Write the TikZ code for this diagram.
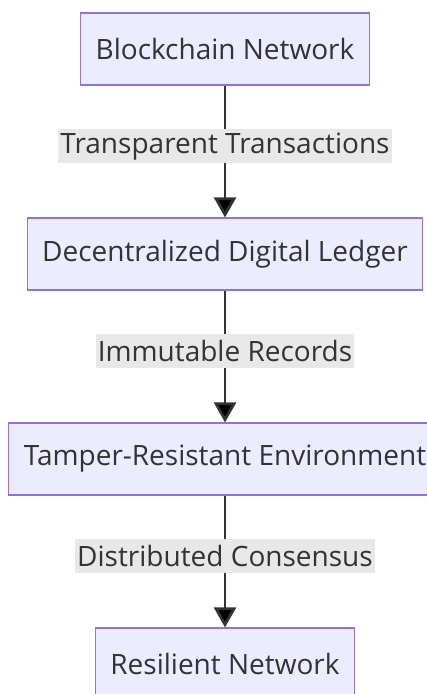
\documentclass[tikz,border=0pt]{standalone}
\usepackage{fontspec}
\setmainfont{Open Sans}
\usetikzlibrary{positioning,arrows.meta}

\definecolor{boxfill}{HTML}{ECECFF}
\definecolor{boxline}{HTML}{9370DB}
\definecolor{lblfill}{HTML}{E8E8E8}
\definecolor{ink}{HTML}{333333}

\tikzset{
  box/.style={draw=boxline, fill=boxfill, line width=1.2pt, text=ink,
    minimum height=72pt, inner xsep=15pt, font=\fontsize{28}{32}\selectfont},
  lbl/.style={fill=lblfill, text=ink, inner xsep=2pt, inner ysep=0pt,
    minimum height=34pt, font=\fontsize{28}{32}\selectfont},
  flow/.style={draw=ink, line width=2.8pt, -{Triangle[length=20pt,width=22pt]}}
}

\begin{document}
\begin{tikzpicture}[x=1pt,y=-1pt,node distance=205pt,on grid]
   \useasboundingbox (0,0) rectangle (427,694);
   \node[box] (bn)  at (225,49)   {Blockchain Network};
   \node[box] (ddl) [below=of bn]  {Decentralized Digital Ledger};
   \node[box] (tre) [below=of ddl] {Tamper-Resistant Environment};
   \node[box] (rn)  [below=of tre] {Resilient Network};

   \path[flow]
    (bn)  edge node[lbl, pos=0.46] {Transparent Transactions} (ddl)
    (ddl) edge node[lbl, pos=0.46] {Immutable Records} (tre)
    (tre) edge node[lbl, pos=0.46] {Distributed Consensus} (rn);
\end{tikzpicture}
\end{document}
